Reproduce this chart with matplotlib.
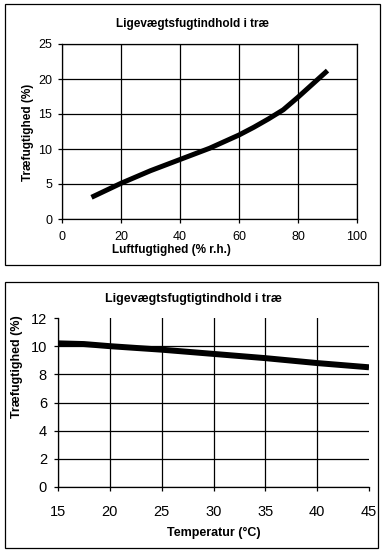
import matplotlib
matplotlib.use("Agg")
import matplotlib.pyplot as plt
from matplotlib.patches import Rectangle

plt.rcParams['font.family'] = ['Liberation Sans', 'DejaVu Sans']

# Data
title1 = "Ligevægtsfugtindhold i træ"
rh = [10, 20, 30, 40, 50, 60, 65, 70, 75, 80, 85, 90]
emc_rh = [3.1, 5.1, 6.9, 8.5, 10.1, 12.0, 13.1, 14.3, 15.6, 17.4, 19.3, 21.2]
xticks1 = [0, 20, 40, 60, 80, 100]
yticks1 = [0, 5, 10, 15, 20, 25]

title2 = "Ligevægtsfugtigtindhold i træ"
temp = [15, 17.5, 20, 25, 30, 35, 40, 45]
emc_t = [10.2, 10.15, 10.0, 9.75, 9.45, 9.15, 8.8, 8.5]
xticks2 = [15, 20, 25, 30, 35, 40, 45]
yticks2 = [0, 2, 4, 6, 8, 10, 12]

W, H = 387, 555
fig = plt.figure(figsize=(W/100, H/100), dpi=100)

def fx(px): return px / W
def fy(py): return 1 - py / H

# outer frames
fig.patches.append(Rectangle((fx(5), fy(265)), fx(380) - fx(5), fy(4) - fy(265),
                             transform=fig.transFigure, fill=False, ec='black', lw=0.9))
fig.patches.append(Rectangle((fx(5), fy(548)), fx(378) - fx(5), fy(282) - fy(548),
                             transform=fig.transFigure, fill=False, ec='black', lw=0.9))

# Top chart
ax1 = fig.add_axes([fx(62), fy(219), fx(357) - fx(62), fy(44) - fy(219)])
ax1.plot(rh, emc_rh, color='black', lw=3.6, solid_capstyle='butt')
ax1.set_xlim(0, 100)
ax1.set_ylim(0, 25)
ax1.set_xticks(xticks1)
ax1.set_yticks(yticks1)
ax1.grid(True, color='black', lw=0.9)
ax1.set_axisbelow(True)
for s in ax1.spines.values():
    s.set_linewidth(0.9)
ax1.tick_params(direction='out', length=3, width=0.9, labelsize=9)
ax1.tick_params(axis='x', pad=6)
ax1.tick_params(axis='y', pad=4)
fig.text(fx(193), fy(24), title1, ha='center', va='center', fontsize=8.5, fontweight='bold')
fig.text(fx(171), fy(250), "Luftfugtighed (% r.h.)", ha='center', va='center', fontsize=8.5, fontweight='bold')
fig.text(fx(28), fy(132), "Træfugtighed (%)", ha='center', va='center', rotation=90, fontsize=8.5, fontweight='bold')

# Bottom chart
ax2 = fig.add_axes([fx(58), fy(487), fx(369) - fx(58), fy(318) - fy(487)])
ax2.plot(temp, emc_t, color='black', lw=4.3, solid_capstyle='butt')
ax2.set_xlim(15, 45)
ax2.set_ylim(0, 12)
ax2.set_xticks(xticks2)
ax2.set_yticks(yticks2)
ax2.grid(True, color='black', lw=0.9)
ax2.set_axisbelow(True)
ax2.xaxis.get_gridlines()[-1].set_visible(False)
ax2.yaxis.get_gridlines()[-1].set_visible(False)
ax2.spines['top'].set_visible(False)
ax2.spines['right'].set_visible(False)
for s in ax2.spines.values():
    s.set_linewidth(0.9)
ax2.tick_params(direction='out', length=3, width=0.9, labelsize=10.5)
ax2.tick_params(axis='x', pad=10)
ax2.tick_params(axis='y', pad=5)
fig.text(fx(193), fy(299), title2, ha='center', va='center', fontsize=9, fontweight='bold')
fig.text(fx(214), fy(533), "Temperatur (°C)", ha='center', va='center', fontsize=9, fontweight='bold')
fig.text(fx(17), fy(367), "Træfugtighed (%)", ha='center', va='center', rotation=90, fontsize=9, fontweight='bold')

fig.savefig("out.png", dpi=100, facecolor='white')
